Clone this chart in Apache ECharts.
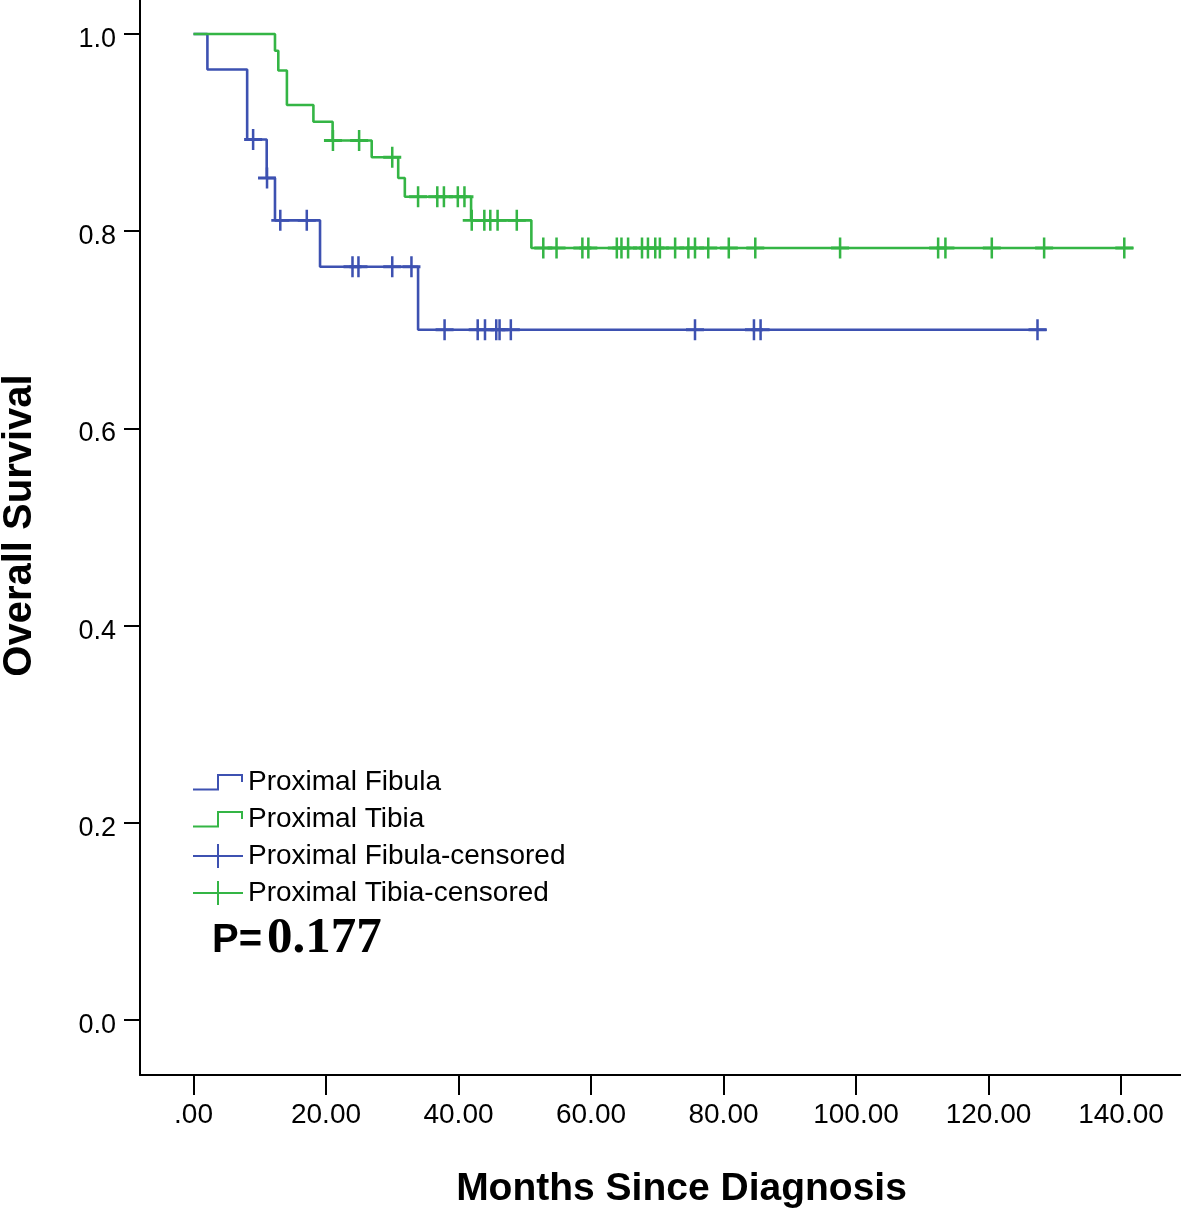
<!DOCTYPE html>
<html>
<head>
<meta charset="utf-8">
<script src="https://cdn.jsdelivr.net/npm/echarts@6/dist/echarts.min.js"></script>
<style>
html,body{margin:0;padding:0;background:#fff;}
#chart{width:1181px;height:1211px;}
</style>
</head>
<body>
<div id="chart"></div>
<script>
// ---- Data ----
// Kaplan-Meier step points (time in months, survival proportion)
const fibulaTimes = [0, 2.1, 8.1, 11.05, 12.3, 19.1, 33.9, 128.8];
const fibulaSurv  = [1.0, 0.964, 0.893, 0.854, 0.811, 0.764, 0.700, 0.700];
const tibiaTimes  = [0, 12.3, 12.8, 14.1, 18.1, 21.0, 26.9, 30.9, 31.9, 41.9, 51.0, 141.9];
const tibiaSurv   = [1.0, 0.983, 0.963, 0.928, 0.911, 0.892, 0.875, 0.854, 0.835, 0.811, 0.783, 0.783];
// Censored observation times
const fibulaCensored = [9.0, 11.1, 13.1, 17.1, 24.0, 24.9, 30.0, 32.9, 37.9, 42.9, 44.0, 45.7, 46.2, 47.9, 75.7, 84.6, 85.6, 127.4];
const tibiaCensored  = [21.05, 25.0, 30.0, 33.9, 36.8, 37.8, 39.9, 40.9, 42.0, 43.9, 44.8, 45.9, 48.8, 52.8, 54.8, 58.7, 59.6, 63.9, 64.6, 65.6, 67.7, 68.6, 69.7, 70.4, 72.7, 74.7, 75.7, 77.7, 80.8, 84.8, 97.6, 112.4, 113.5, 120.5, 128.4, 140.5];
// Axis ticks and labels
const xTickValues = [0, 20, 40, 60, 80, 100, 120, 140];
const xTickLabels = ['.00', '20.00', '40.00', '60.00', '80.00', '100.00', '120.00', '140.00'];
const yTickValues = [0, 0.2, 0.4, 0.6, 0.8, 1.0];
const yTickLabels = ['0.0', '0.2', '0.4', '0.6', '0.8', '1.0'];
const seriesNames = ['Proximal Fibula', 'Proximal Tibia', 'Proximal Fibula-censored', 'Proximal Tibia-censored'];
const pValueText = ['P=', '0.177'];

// ---- helpers ----
function zip(a, b) { return a.map((v, i) => [v, b[i]]); }
function survAt(times, surv, t) {
  let s = surv[0];
  for (let i = 0; i < times.length; i++) { if (times[i] <= t) s = surv[i]; }
  return s;
}
function labelFor(values, labels, v) {
  let best = 0;
  for (let i = 0; i < values.length; i++) {
    if (Math.abs(values[i] - v) < Math.abs(values[best] - v)) best = i;
  }
  return labels[best];
}

const BLUE = '#3d51b1';
const GREEN = '#34b545';
const FONT = '"Liberation Sans", Arial, sans-serif';
const plusPath = 'path://M8.6,0h2.8v8.6h8.6v2.8h-8.6v8.6h-2.8v-8.6h-8.6v-2.8h8.6z';
const stepIcon = 'path://M0,0M50,24M0,18.5L24,18.5L24,4L50,4L50,12L48,12L48,6L26,6L26,20.5L0,20.5Z';
const plusIcon = 'path://M0,11L24,11L24,0L26,0L26,11L50,11L50,13L26,13L26,24L24,24L24,13L0,13Z';

const chart = echarts.init(document.getElementById('chart'), null, { renderer: 'canvas' });
chart.setOption({
  animation: false,
  backgroundColor: '#ffffff',
  grid: { left: 140, right: 0, top: 0, bottom: 136, containLabel: false, outerBoundsMode: 'none' },
  legend: {
    orient: 'vertical',
    left: 193,
    top: 768,
    padding: 0,
    itemWidth: 50,
    itemHeight: 24,
    itemGap: 9,
    selectedMode: false,
    itemStyle: { borderWidth: 0 },
    textStyle: { fontSize: 28, color: '#000', fontFamily: FONT },
    data: [
      { name: seriesNames[0], icon: stepIcon, itemStyle: { color: BLUE, borderWidth: 0 } },
      { name: seriesNames[1], icon: stepIcon, itemStyle: { color: GREEN, borderWidth: 0 } },
      { name: seriesNames[2], icon: plusIcon, itemStyle: { color: BLUE, borderWidth: 0 } },
      { name: seriesNames[3], icon: plusIcon, itemStyle: { color: GREEN, borderWidth: 0 } }
    ]
  },
  xAxis: {
    type: 'value',
    min: -8.075,
    max: 149.06,
    name: 'Months Since Diagnosis',
    nameLocation: 'middle',
    nameGap: 95,
    nameTextStyle: { fontSize: 39, fontWeight: 'bold', color: '#000', fontFamily: FONT, padding: [0, 0, 0, 42] },
    axisLine: { show: true, onZero: false, lineStyle: { color: '#000', width: 2 } },
    axisTick: { show: true, length: 20, customValues: xTickValues, lineStyle: { color: '#000', width: 2 } },
    axisLabel: {
      customValues: xTickValues,
      margin: 26,
      fontSize: 28,
      color: '#000',
      fontFamily: FONT,
      formatter: v => labelFor(xTickValues, xTickLabels, v)
    },
    splitLine: { show: false }
  },
  yAxis: {
    type: 'value',
    min: -0.0558,
    max: 1.0345,
    name: 'Overall Survival',
    nameLocation: 'middle',
    nameGap: 100,
    nameTextStyle: { fontSize: 40, fontWeight: 'bold', color: '#000', fontFamily: FONT, padding: [0, 0, 0, 24] },
    axisLine: { show: true, onZero: false, lineStyle: { color: '#000', width: 2 } },
    axisTick: { show: true, length: 16, customValues: yTickValues, lineStyle: { color: '#000', width: 2 } },
    axisLabel: {
      customValues: yTickValues,
      margin: 24,
      color: '#000',
      formatter: v => '{t|' + labelFor(yTickValues, yTickLabels, v) + '}',
      rich: { t: { fontSize: 27, color: '#000', fontFamily: FONT, padding: [11, 0, 0, 0] } }
    },
    splitLine: { show: false }
  },
  series: [
    {
      name: seriesNames[0], type: 'line', step: 'end', showSymbol: false, symbol: 'none',
      data: zip(fibulaTimes, fibulaSurv),
      itemStyle: { color: BLUE },
      lineStyle: { color: BLUE, width: 2.6 }, z: 2
    },
    {
      name: seriesNames[1], type: 'line', step: 'end', showSymbol: false, symbol: 'none',
      data: zip(tibiaTimes, tibiaSurv),
      itemStyle: { color: GREEN },
      lineStyle: { color: GREEN, width: 2.6 }, z: 3
    },
    {
      name: seriesNames[2], type: 'scatter', symbol: plusPath, symbolSize: [18, 21],
      data: fibulaCensored.map(t => [t, survAt(fibulaTimes, fibulaSurv, t)]),
      itemStyle: { color: BLUE, opacity: 1 }, z: 4
    },
    {
      name: seriesNames[3], type: 'scatter', symbol: plusPath, symbolSize: [18, 21],
      data: tibiaCensored.map(t => [t, survAt(tibiaTimes, tibiaSurv, t)]),
      itemStyle: { color: GREEN, opacity: 1 }, z: 5
    }
  ],
  graphic: [
    {
      type: 'text', left: 212, top: 921,
      style: { text: pValueText[0], font: 'bold 40px "Liberation Sans", Arial, sans-serif', fill: '#000' }
    },
    {
      type: 'text', left: 267, top: 913,
      style: { text: pValueText[1], font: 'bold 51px "Liberation Serif", "Times New Roman", serif', fill: '#000' }
    }
  ]
});
</script>
</body>
</html>
